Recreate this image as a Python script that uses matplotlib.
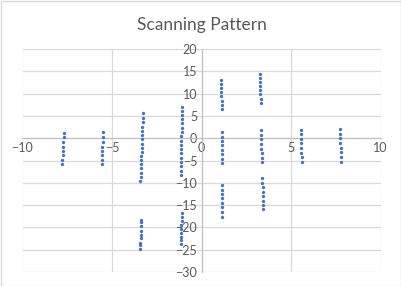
import numpy as np
import matplotlib.pyplot as plt

# scan columns (x, list of y)
col1_x = [-7.69, -7.7, -7.71, -7.72, -7.74, -7.75, -7.77, -7.78]
col1_y = [1.1, 0.2, -0.9, -1.9, -2.85, -3.8, -4.9, -5.85]
col2_x = [-5.51, -5.52, -5.53, -5.54, -5.54, -5.55, -5.56, -5.57]
col2_y = [1.35, 0.2, -0.75, -1.9, -2.85, -3.8, -4.8, -5.85]
col3_x = [-3.28, -3.29, -3.29, -3.3, -3.31, -3.32, -3.33, -3.34, -3.35,
          -3.35, -3.36, -3.37, -3.38, -3.39, -3.4, -3.4, -3.41]
col3_y = [5.6, 4.5, 3.6, 2.5, 1.65, 0.65, -0.2, -1.2, -2.2,
          -3.1, -3.9, -4.9, -5.8, -6.7, -7.7, -8.6, -9.65]
col3b_x = [-3.36, -3.37, -3.38, -3.39, -3.4, -3.4, -3.41, -3.42, -3.42]
col3b_y = [-18.4, -18.9, -19.7, -20.7, -21.7, -22.4, -23.4, -24.0, -24.8]
col4_x = [-1.08, -1.09, -1.09, -1.1, -1.1, -1.11, -1.11, -1.12, -1.12,
          -1.13, -1.13, -1.14, -1.14, -1.15, -1.15, -1.16, -1.16]
col4_y = [7.1, 6.15, 5.2, 4.2, 3.3, 2.3, 1.35, 0.4, -0.6,
          -1.5, -2.5, -3.4, -4.4, -5.4, -6.3, -7.3, -8.25]
col4b_x = [-1.1, -1.11, -1.11, -1.12, -1.12, -1.13, -1.13, -1.14, -1.14]
col4b_y = [-16.8, -17.7, -18.6, -19.5, -20.3, -21.2, -22.1, -22.9, -23.8]
col5_x = [1.08, 1.09, 1.1, 1.11, 1.11, 1.12, 1.13, 1.13]
col5_y = [13.0, 12.05, 11.15, 10.25, 9.45, 8.45, 7.4, 6.5]
col5m_x = [1.13, 1.13, 1.13, 1.13, 1.13, 1.13, 1.13, 1.13]
col5m_y = [1.35, 0.35, -0.65, -1.55, -2.7, -3.6, -4.7, -5.6]
col5b_x = [1.13, 1.13, 1.13, 1.13, 1.13, 1.13, 1.13, 1.13]
col5b_y = [-10.55, -11.7, -12.6, -13.5, -14.6, -15.5, -16.5, -17.6]
col6_x = [3.26, 3.27, 3.27, 3.28, 3.29, 3.29, 3.3, 3.31]
col6_y = [14.4, 13.5, 12.6, 11.7, 10.8, 9.9, 8.9, 7.85]
col6m_x = [3.33, 3.34, 3.34, 3.35, 3.35, 3.36, 3.36, 3.37]
col6m_y = [1.8, 0.65, -0.2, -1.35, -2.35, -3.35, -4.35, -5.4]
col6b_x = [3.39, 3.4, 3.41, 3.42, 3.42, 3.43, 3.44, 3.45]
col6b_y = [-9.0, -10.1, -11.0, -12.1, -13.0, -14.15, -15.05, -15.95]
col7_x = [5.55, 5.56, 5.56, 5.57, 5.58, 5.58, 5.59, 5.6]
col7_y = [1.85, 0.9, -0.15, -1.1, -2.25, -3.25, -4.25, -5.25]
col8_x = [7.73, 7.74, 7.75, 7.76, 7.77, 7.78, 7.79, 7.8]
col8_y = [2.1, 0.95, 0.0, -1.1, -2.2, -3.15, -4.2, -5.25]

xs = (col1_x + col2_x + col3_x + col3b_x + col4_x + col4b_x + col5_x + col5m_x
      + col5b_x + col6_x + col6m_x + col6b_x + col7_x + col8_x)
ys = (col1_y + col2_y + col3_y + col3b_y + col4_y + col4b_y + col5_y + col5m_y
      + col5b_y + col6_y + col6m_y + col6b_y + col7_y + col8_y)

plt.rcParams['font.family'] = ['Lato', 'DejaVu Sans']

fig = plt.figure(figsize=(4.01, 2.86), dpi=100)
ax = fig.add_axes([22.5 / 401, 14 / 286, 358 / 401, 223 / 286])

ax.plot(xs, ys, 'o', color='#4472C4', markersize=2.4, markeredgewidth=0, zorder=3)

ax.set_xlim(-10, 10)
ax.set_ylim(-30, 20)
ax.set_xticks(np.arange(-10, 11, 5))
ax.set_yticks(np.arange(-30, 21, 5))
ax.grid(True, color='#D9D9D9', linewidth=0.9)
ax.set_axisbelow(True)

for side in ['top', 'right']:
    ax.spines[side].set_visible(False)
ax.spines['left'].set_position('zero')
ax.spines['bottom'].set_position('zero')
ax.spines['left'].set_color('#BFBFBF')
ax.spines['bottom'].set_color('#BFBFBF')
ax.tick_params(length=0, labelsize=9, labelcolor='#595959', pad=3)
for lbl in ax.get_xticklabels():
    lbl.set_verticalalignment('top')

ax.set_title('Scanning Pattern', fontsize=12.5, color='#595959', pad=14)

fig.patches.append(plt.Rectangle((0.5 / 401, 0.5 / 286), 400 / 401, 285 / 286,
                                 transform=fig.transFigure, fill=False,
                                 edgecolor='#D9D9D9', linewidth=1))

fig.savefig('out.png', dpi=100)
